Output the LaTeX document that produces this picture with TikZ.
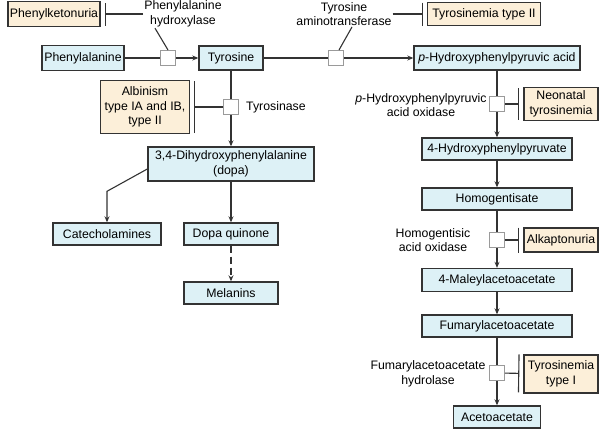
\documentclass[tikz,border=0pt]{standalone}
\usepackage{fontspec}
\setmainfont{Liberation Sans}
\usetikzlibrary{arrows.meta, positioning, calc}
\definecolor{metabblue}{HTML}{DDF1F6}
\definecolor{diseasetan}{HTML}{FCEFD9}
\definecolor{edgegray}{HTML}{333333}
\definecolor{enzgray}{HTML}{9A9A9A}

\begin{document}
\begin{tikzpicture}[
  x=1pt, y=-1pt,
  every node/.style={font=\fontsize{12.3}{14.5}\selectfont},
  metab/.style={rectangle, draw=edgegray, line width=1.4pt, fill=metabblue, minimum height=23pt, inner sep=2pt, align=center},
  disease/.style={rectangle, draw=edgegray, line width=1.4pt, fill=diseasetan, inner sep=2pt, align=center},
  enzyme/.style={rectangle, draw=enzgray, line width=1pt, fill=white, minimum size=15pt, inner sep=0pt},
  lbl/.style={align=center, inner sep=1pt},
  link/.style={draw=edgegray, line width=1.1pt},
  arrow/.style={link, -{Stealth[length=6pt, width=5pt]}},
  inhibit/.style={link, -{Bar[width=#1]}, shorten >=4pt}
]
  \useasboundingbox (0,0) rectangle (600,429);

  \node[disease, minimum width=92pt, minimum height=25pt] (pku) at (54,14) {Phenylketonuria};
  \node[lbl] (pahlbl) at (183,14) {Phenylalanine\\hydroxylase};
  \node[metab, minimum width=82pt, minimum height=25pt] (phe) at (83,58) {Phenylalanine};
  \node[enzyme] (pah) at (168,58) {};
  \node[metab, minimum width=64pt, minimum height=24pt] (tyr) at (231,58) {Tyrosine};

  \node[lbl] (tatlbl) at (344,14) {Tyrosine\\aminotransferase};
  \node[enzyme] (tat) at (336,58) {};
  \node[disease, minimum width=113pt, minimum height=23pt] (tyrII) at (484,14) {Tyrosinemia type II};
  \node[metab, minimum width=166pt, minimum height=24pt] (hppa) at (497,58) {\textit{p}-Hydroxyphenylpyruvic acid};

  \node[disease, minimum width=89pt, minimum height=53pt] (alb) at (145,107) {Albinism\\type IA and IB,\\type II};
  \node[enzyme] (tyrase) at (231,107) {};
  \node[lbl, right=6pt of tyrase] (tyraselbl) {Tyrosinase};
  \node[metab, minimum width=166pt, minimum height=34pt] (dopa) at (231,164) {3,4-Dihydroxyphenylalanine\\(dopa)};
  \node[metab, minimum width=108pt, minimum height=22pt] (cat) at (107,234) {Catecholamines};
  \node[metab, minimum width=94pt, minimum height=22pt] (dq) at (231,234) {Dopa quinone};
  \node[metab, minimum width=94pt, minimum height=22pt] (mel) at (231,293) {Melanins};

  \node[enzyme] (hppd) at (497,104) {};
  \node[lbl] (hppdlbl) at (421,105) {\textit{p}-Hydroxyphenylpyruvic\\acid oxidase};
  \node[disease, minimum width=74pt, minimum height=33pt] (neo) at (561,104) {Neonatal\\tyrosinemia};
  \node[metab, minimum width=150pt, minimum height=22pt] (hpp) at (497,149) {4-Hydroxyphenylpyruvate};
  \node[metab, minimum width=150pt, minimum height=22pt] (hga) at (497,199) {Homogentisate};
  \node[enzyme] (hgd) at (497,240) {};
  \node[lbl] (hgdlbl) at (433,240) {Homogentisic\\acid oxidase};
  \node[disease, minimum width=74pt, minimum height=24pt] (alk) at (561,240) {Alkaptonuria};
  \node[metab, minimum width=150pt, minimum height=23pt] (maa) at (497,280) {4-Maleylacetoacetate};
  \node[metab, minimum width=150pt, minimum height=22pt] (faa) at (497,326) {Fumarylacetoacetate};
  \node[enzyme] (fah) at (497,373) {};
  \node[lbl] (fahlbl) at (428,374) {Fumarylacetoacetate\\hydrolase};
  \node[disease, minimum width=74pt, minimum height=38pt] (tyrI) at (561,374) {Tyrosinemia\\type I};
  \node[metab, minimum width=87pt, minimum height=22pt] (aca) at (497,417) {Acetoacetate};

  \draw[link] (phe) -- (pah);
  \draw[arrow] (pah) -- (tyr);
  \draw[link] ($(pahlbl.south)+(-28,0)$) -- (pah.north);
  \draw[inhibit=23pt] (pahlbl.west) -- (pku);

  \draw[link] (tyr) -- (tat);
  \draw[arrow] (tat) -- (hppa);
  \draw[link] ($(tatlbl.south)+(8,0)$) -- ($(tat.north)+(3,0)$);
  \draw[inhibit=23pt] (tatlbl.east) -- (tyrII);

  \draw[link] (tyr) -- (tyrase);
  \draw[arrow] (tyrase) -- (dopa);
  \draw[inhibit=52pt] (tyrase) -- (alb);
  \draw[arrow] ([yshift=-5pt]dopa.west) -- ([yshift=31pt]cat.north) -- (cat.north);
  \draw[arrow] (dopa) -- (dq);
  \draw[arrow, dash pattern=on 7pt off 4pt] (dq) -- (mel);

  \draw[link] (hppa) -- (hppd);
  \draw[arrow] (hppd) -- (hpp);
  \draw[inhibit=32pt] (hppd) -- (neo);
  \draw[arrow] (hpp) -- (hga);
  \draw[link] (hga) -- (hgd);
  \draw[arrow] (hgd) -- (maa);
  \draw[inhibit=25pt] (hgd) -- (alk);
  \draw[arrow] (maa) -- (faa);
  \draw[link] (faa) -- (fah);
  \draw[arrow] (fah) -- (aca);
  \draw[inhibit=38pt] (fah) -- (tyrI);
\end{tikzpicture}
\end{document}
